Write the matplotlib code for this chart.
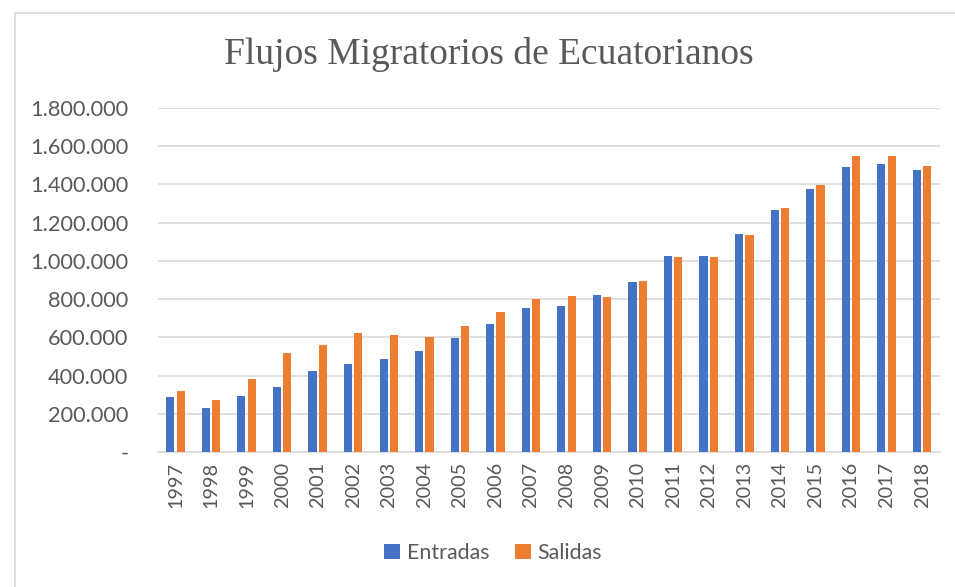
import numpy as np
import matplotlib
matplotlib.use("Agg")
import matplotlib.pyplot as plt
from matplotlib.patches import Rectangle
from matplotlib.ticker import FuncFormatter

years = ["1997", "1998", "1999", "2000", "2001", "2002", "2003", "2004",
         "2005", "2006", "2007", "2008", "2009", "2010", "2011", "2012",
         "2013", "2014", "2015", "2016", "2017", "2018"]
entradas = [288000, 232000, 292000, 342000, 423000, 459000, 484000, 528000,
            594000, 671000, 755000, 766000, 820000, 890000, 1024000, 1024000,
            1141000, 1267000, 1374000, 1491000, 1505000, 1475000]
salidas = [318000, 271000, 383000, 517000, 559000, 624000, 610000, 601000,
           661000, 732000, 799000, 815000, 811000, 895000, 1021000, 1021000,
           1136000, 1278000, 1398000, 1550000, 1547000, 1496000]

blue = "#4472C4"
orange = "#ED7D31"
grey_txt = "#595959"
grid_c = "#D9D9D9"

plt.rcParams['font.family'] = ['Lato', 'DejaVu Sans']

fig = plt.figure(figsize=(9.55, 5.87), dpi=100)
# outer chart frame (cut off on right/bottom like the screenshot)
fig.patches.append(Rectangle((15/955, -0.05), 1.0, 1 - 13/587 + 0.05,
                             transform=fig.transFigure, fill=False,
                             edgecolor=grid_c, linewidth=1.2))

ax = fig.add_axes([0.1651, 0.2300, 0.8190, 0.5860])
x = np.arange(len(years))
w = 0.23
ax.bar(x - 0.145, entradas, w, color=blue, label="Entradas", zorder=3)
ax.bar(x + 0.145, salidas, w, color=orange, label="Salidas", zorder=3)

ax.set_xlim(-0.5, len(years) - 0.5)
ax.set_ylim(0, 1800000)
ax.set_yticks(np.arange(0, 1800001, 200000))
ax.yaxis.set_major_formatter(FuncFormatter(
    lambda v, p: "-" if v == 0 else f"{int(v):,}".replace(",", ".")))
ax.set_xticks(x)
ax.set_xticklabels(years, rotation=90)
ax.grid(axis="y", color=grid_c, linewidth=1.2, zorder=0)
for s in ["top", "right", "left"]:
    ax.spines[s].set_visible(False)
ax.spines["bottom"].set_color(grid_c)
ax.spines["bottom"].set_linewidth(1.2)
ax.tick_params(axis="y", length=0, pad=21, labelsize=15.7, labelcolor=grey_txt)
ax.tick_params(axis="x", length=0, pad=7, labelsize=14.3, labelcolor=grey_txt)

fig.text(489/955, 1 - 55/587, "Flujos Migratorios de Ecuatorianos",
         family="Liberation Serif", fontsize=27, color=grey_txt,
         ha="center", va="center")

fig.legend(loc="center", bbox_to_anchor=(493/955, 1 - 553/587), ncol=2,
           frameon=False, fontsize=15.4, labelcolor=grey_txt,
           handlelength=0.75, handleheight=0.75, handletextpad=0.3,
           columnspacing=1.2)

fig.savefig("out.png", dpi=100)
